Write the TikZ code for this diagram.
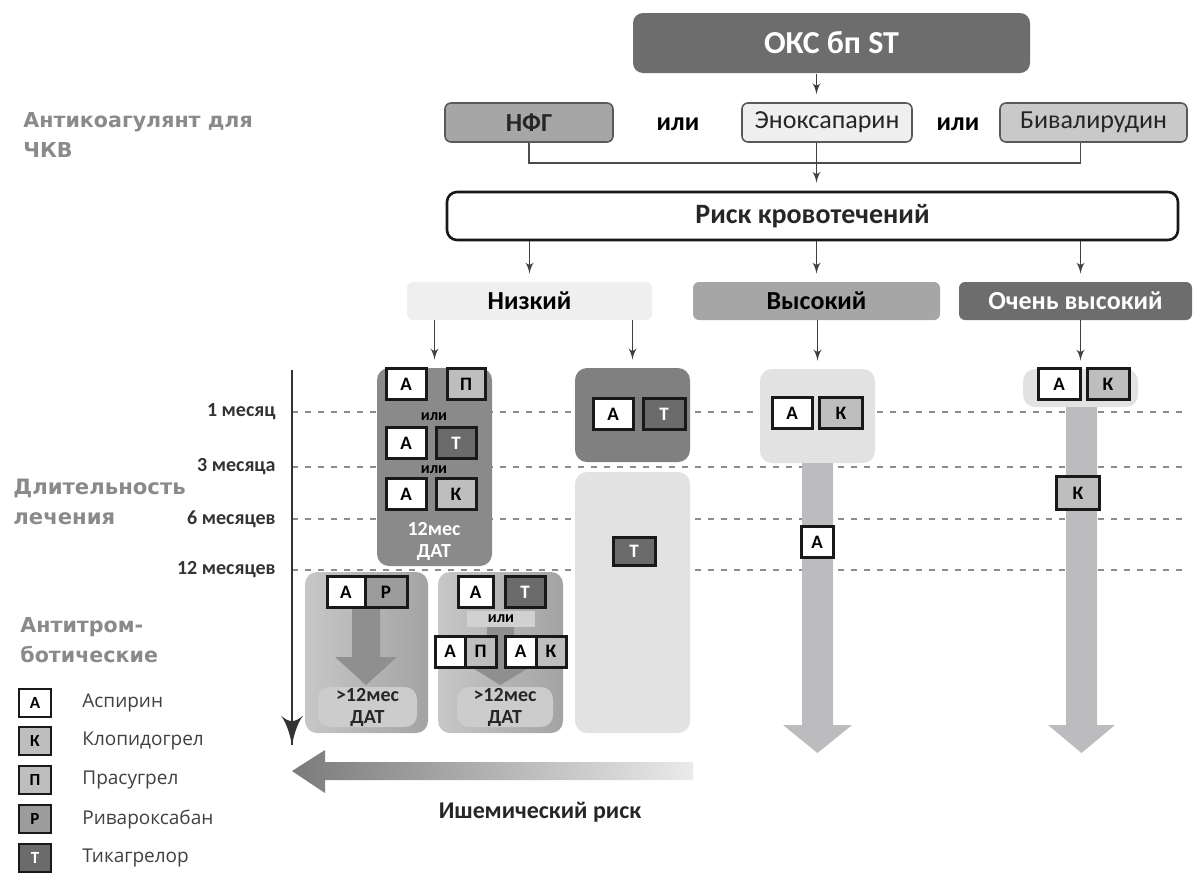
\documentclass[tikz,border=0pt]{standalone}
\usepackage{fontspec}
\setmainfont{Carlito}
\newfontfamily\titulofont{DejaVu Sans}
\newfontfamily\legendafont{Open Sans}
\usetikzlibrary{arrows,positioning,decorations.markings}

\definecolor{escuro}{HTML}{6D6D6D}
\definecolor{medio}{HTML}{A6A6A6}
\definecolor{claro}{HTML}{C9C9C9}
\definecolor{clarissimo}{HTML}{EFEFEF}
\definecolor{coluna}{HTML}{8A8A8A}
\definecolor{coluna2}{HTML}{808080}
\definecolor{fundo}{HTML}{E2E2E2}
\definecolor{hastecor}{HTML}{BCBCBF}
\definecolor{cinzaK}{HTML}{BEBEBE}
\definecolor{cinzaR}{HTML}{9C9C9C}
\definecolor{cinzaT}{HTML}{6B6B6B}
\definecolor{titcinza}{HTML}{8A8A8A}

\begin{document}
\begin{tikzpicture}[x=0.5pt,y=-0.5pt]

\useasboundingbox (0,0) rectangle (1198,873);

\newcommand{\tam}[1]{\fontsize{#1}{#1}\selectfont}

\tikzstyle{caixa}=[rounded corners=3pt,draw=black!65,line width=0.8pt,inner sep=0pt,minimum height=19.5pt,text=black!85]
\tikzstyle{nivel}=[rounded corners=3pt,inner sep=0pt,minimum height=19pt,font=\bfseries\tam{13}]
\tikzstyle{bloco}=[rounded corners=6pt,inner sep=0pt]
\tikzstyle{tabl}=[draw=black!90,line width=1.5pt,inner sep=0pt,minimum width=20pt,minimum height=15.5pt,font=\bfseries\tam{9.5}]
\tikzstyle{tA}=[tabl,fill=white]
\tikzstyle{tK}=[tabl,fill=cinzaK]
\tikzstyle{tP}=[tabl,fill=cinzaK]
\tikzstyle{tR}=[tabl,fill=cinzaR]
\tikzstyle{tT}=[tabl,fill=cinzaT,text=white]
\tikzstyle{seta}=[->,>=latex',line width=0.9pt,draw=black!75,shorten >=4pt]
\tikzstyle{linha}=[line width=0.9pt,draw=black!70]
\tikzstyle{eixo}=[line width=1.3pt,draw=black!80,decoration={markings,mark=at position 1 with
                    {\arrow[scale=2.2,>=latex']{>}}},postaction={decorate}]
\tikzstyle{ou}=[inner sep=0pt,font=\bfseries\tam{8}]
\tikzstyle{mes}=[anchor=east,inner sep=0pt,text=black!80,font=\bfseries\tam{10}]
\tikzstyle{titulo}=[anchor=west,align=left,inner sep=0pt,text=titcinza,font=\titulofont\bfseries\fontsize{10.3}{15}\selectfont]
\tikzstyle{legenda}=[anchor=west,inner sep=0pt,text=black!75,font=\legendafont\tam{9.5}]
\tikzstyle{tracejado}=[line width=1pt,draw=black!45,dash pattern=on 3pt off 3.5pt]
\tikzstyle{haste}=[fill=hastecor]
\tikzstyle{blocoseta}=[fill=black!44]
\tikzstyle{dat}=[align=center,inner sep=0pt,font=\bfseries\fontsize{10}{11}\selectfont]

\newcommand{\area}[6]{
    \node[bloco,#6,minimum width=#4*0.5pt,minimum height=#5*0.5pt] (#1) at (#2,#3) {};
}

\newcommand{\droga}[6]{
    \node[t#4,#6] (#1) at (#2,#3) {#5};
}

% titulos a esquerda
\node[titulo] (antic) at (23,135) {Антикоагулянт для\\ЧКВ};
\node[titulo,font=\titulofont\bfseries\fontsize{10.6}{15}\selectfont] (durac) at (13,502) {Длительность\\лечения};
\node[titulo] (antitr) at (20,640) {Антитром-\\ботические};

% topo
\node[caixa,fill=escuro,draw=none,rounded corners=5pt,text=white,minimum width=198.5pt,minimum height=30pt,font=\bfseries\tam{16}] (oks) at (831.5,43) {ОКС бп ST};
\node[caixa,fill=medio,minimum width=84pt,font=\bfseries\tam{13}] (nfg) at (529,122.5) {НФГ};
\node[ou,font=\bfseries\tam{13}] (ou1) at (678,124) {или};
\node[caixa,fill=clarissimo,minimum width=85pt,font=\tam{13}] (enox) at (827,122.5) {Эноксапарин};
\node[ou,font=\bfseries\tam{13}] (ou2) at (958,124) {или};
\node[caixa,fill=claro,minimum width=93.5pt,font=\tam{13}] (bival) at (1093.5,122.5) {Бивалирудин};
\node[caixa,fill=white,draw=black!90,line width=1.3pt,rounded corners=5pt,minimum width=365.5pt,minimum height=24pt,font=\bfseries\tam{14}] (risk) at (812.5,216) {Риск кровотечений};

\node[nivel,fill=clarissimo,minimum width=122.5pt] (nizk) at (529.5,301) {Низкий};
\node[nivel,fill=medio,minimum width=123.5pt] (vys) at (816.5,301) {Высокий};
\node[nivel,fill=escuro,text=white,minimum width=116.5pt] (ochv) at (1075.5,301) {Очень высокий};

% linhas de tempo
\foreach \y in {412,467,519,570}
{
    \draw[tracejado] (292,\y) -- (1182,\y);
}

\foreach \y/\m in {412/1 месяц,467/3 месяца,519/6 месяцев,570/12 месяцев}
{
    \node[mes] (m\y) at (276,\y) {\m};
}

% colunas
\area{col1}{434.5}{467}{115}{198}{fill=coluna}
\area{col2a}{632.5}{415}{115}{94}{fill=coluna2}
\area{col2b}{632.5}{602.5}{115}{261}{fill=fundo}
\area{vcol}{817.5}{416}{115}{94}{fill=fundo}
\area{ocol}{1080.5}{388}{115}{38}{fill=fundo}
\area{mais1}{366.5}{652.5}{123}{161}{left color=black!22,right color=black!36}
\area{mais2}{500.5}{652.5}{125}{161}{left color=black!22,right color=black!36}

\fill[haste] (802,463) -- (833,463) -- (833,725) -- (852,725) -- (817.5,753) -- (783,725) -- (802,725) -- cycle;
\fill[haste] (1066,407) -- (1097,407) -- (1097,725) -- (1115,725) -- (1081.5,753) -- (1048,725) -- (1066,725) -- cycle;

\fill[blocoseta] (352,607) -- (380,607) -- (380,657) -- (397,657) -- (366,685) -- (335,657) -- (352,657) -- cycle;
\fill[blocoseta] (487,627) -- (514,627) -- (514,667) -- (530,667) -- (500.5,685) -- (471,667) -- (487,667) -- cycle;

% comprimidos
\droga{a1}{406}{384}{A}{А}{}
\droga{p1}{466}{384}{P}{П}{minimum width=19pt}
\node[ou] (ou3) at (434,417) {или};
\droga{a2}{406}{443}{A}{А}{}
\droga{t2}{456}{443}{T}{Т}{}
\node[ou] (ou4) at (434,470) {или};
\droga{a3}{406}{494}{A}{А}{}
\droga{k3}{456}{494}{K}{К}{}
\node[dat,text=white] (dat1) at (434,541) {12мес\\ДАТ};

\droga{a4}{613}{414}{A}{А}{}
\droga{t4}{664}{414}{T}{Т}{minimum width=21pt}
\droga{t5}{634}{551}{T}{Т}{minimum width=21pt,minimum height=14pt}

\droga{a6}{792}{413}{A}{А}{}
\droga{k6}{841}{413}{K}{К}{minimum width=21.5pt}
\droga{a7}{817}{542}{A}{А}{minimum width=16pt}

\droga{a8}{1059}{384}{A}{А}{minimum width=21pt}
\droga{k8}{1108}{384}{K}{К}{minimum width=21pt}
\droga{k9}{1078}{493}{K}{К}{minimum width=21.5pt,minimum height=16.5pt}

\droga{a10}{346}{592}{A}{А}{minimum width=19pt}
\node[tR,right=-1.5pt of a10,minimum width=21pt] (r10) {Р};
\node[dat,bloco,fill=black!20,minimum width=49.5pt,minimum height=20pt,text=black!85] (dat2) at (367.5,707) {>12мес\\ДАТ};

\droga{a11}{475.5}{592}{A}{А}{minimum width=17.5pt}
\droga{t11}{525}{592}{T}{Т}{}
\node[ou,fill=black!18,minimum width=34pt,minimum height=8pt] (ou5) at (501,619) {или};
\droga{a12}{450}{651.5}{A}{А}{minimum width=15pt}
\node[tP,right=-1.5pt of a12,minimum width=15.5pt] (p12) {П};
\droga{a13}{520.5}{651.5}{A}{А}{minimum width=15.5pt}
\node[tK,right=-1.5pt of a13,minimum width=15pt] (k13) {К};
\node[dat,bloco,fill=black!20,minimum width=48pt,minimum height=20pt,text=black!85] (dat3) at (505,707) {>12мес\\ДАТ};

% eixo e risco isquemico
\draw[eixo] (292,370) -- (292,745);
\shade[left color=black!52,right color=black!8] (693,762) -- (325,762) -- (325,750) -- (292,771) -- (325,793) -- (325,780) -- (693,780) -- cycle;
\node[font=\bfseries\tam{12},text=black!85] (isq) at (540,812) {Ишемический риск};

% legenda
\foreach \l/\s/\n/\y in {А/A/Аспирин/703,К/K/Клопидогрел/741,П/P/Прасугрел/780,Р/R/Ривароксабан/819,Т/T/Тикагрелор/858}
{
    \node[t\s,minimum width=16pt,minimum height=14pt,line width=1.2pt,font=\bfseries\tam{8.5}] (leg\s) at (35,\y) {\l};
    \node[legenda] (nome\s) at (82,\y) {\n};
}

% ligacoes
\draw[seta] (oks.south -| vys) -- (enox.north -| vys);
\draw[linha] (nfg.south) -- ++(0,20) -| (bival.south -| ocol);
\draw[seta] (enox.south -| vys) -- (risk.north -| vys);
\draw[seta] (risk.south -| nizk) -- (nizk.north);
\draw[seta] (risk.south -| vys) -- (vys.north);
\draw[seta] (risk.south -| ocol) -- (ochv.north -| ocol);
\draw[seta] (nizk.south -| col1) -- (col1.north);
\draw[seta] (nizk.south -| col2a) -- (col2a.north);
\draw[seta] (vys.south -| vcol) -- (vcol.north);
\draw[seta] (ochv.south -| ocol) -- (ocol.north);

\end{tikzpicture}
\end{document}
